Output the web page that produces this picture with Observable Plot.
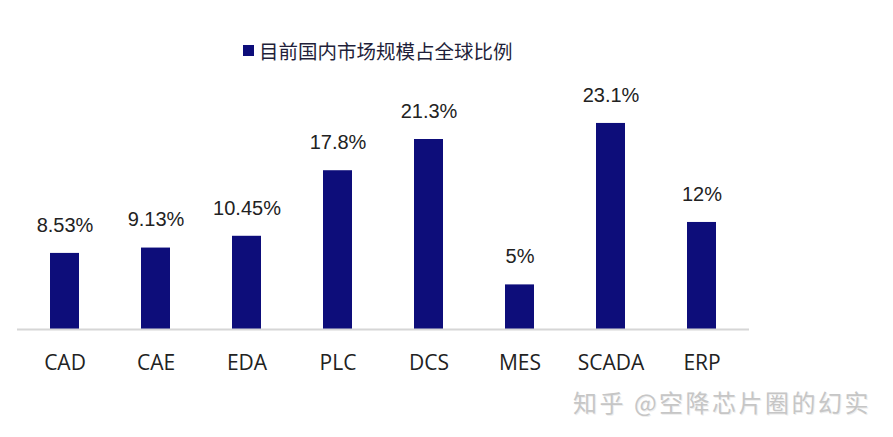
<!DOCTYPE html>
<html>
<head>
<meta charset="utf-8">
<script src="https://cdn.jsdelivr.net/npm/d3@7"></script>
<script src="https://cdn.jsdelivr.net/npm/@observablehq/plot@0.6"></script>
<style>
  html, body { margin: 0; padding: 0; background: #fff; }
  #wrap { position: relative; width: 893px; height: 437px; overflow: hidden; font-family: "Liberation Sans", Arial, "Noto Sans CJK SC", sans-serif; }
  #legend { position: absolute; left: 243px; top: 36px; display: flex; align-items: center; font-family: "Noto Sans CJK SC", sans-serif; font-size: 19.5px; color: #1f1f3a; }
  #legend .sw { width: 11px; height: 11px; background: #0d0d7a; margin-right: 5px; }
  #watermark { position: absolute; left: 573px; top: 384px; font-family: "Noto Sans CJK SC", sans-serif; font-size: 24px; color: #c6c6c6; letter-spacing: 2.5px; text-shadow: 1px 1px 0 #eee; }
  #chart svg { display: block; }
</style>
</head>
<body>
<div id="wrap">
  <div id="chart"></div>
  <div id="legend"><span class="sw"></span><span>目前国内市场规模占全球比例</span></div>
  <div id="watermark">知乎 @空降芯片圈的幻实</div>
</div>
<script>
const categories = ["CAD", "CAE", "EDA", "PLC", "DCS", "MES", "SCADA", "ERP"];
const shares = [8.53, 9.13, 10.45, 17.8, 21.3, 5, 23.1, 12];
const valueLabels = ["8.53%", "9.13%", "10.45%", "17.8%", "21.3%", "5%", "23.1%", "12%"];

const data = categories.map((c, i) => ({ cat: c, v: shares[i], label: valueLabels[i] }));

const chart = Plot.plot({
  width: 893,
  height: 437,
  marginLeft: 17,
  marginRight: 144,
  marginTop: 106,
  marginBottom: 108,
  style: { fontFamily: "'Liberation Sans', Arial, sans-serif", background: "transparent" },
  x: { domain: categories, paddingInner: 0.68, paddingOuter: 0.34, label: null },
  y: { domain: [0, 25], axis: null },
  marks: [
    Plot.barY(data, { x: "cat", y: "v", fill: "#0d0d7a" }),
    Plot.ruleY([0], { stroke: "#d6d6d6", strokeWidth: 2 }),
    Plot.text(data, { x: "cat", y: "v", text: "label", dy: -28, fontSize: 20, fill: "#222" }),
    Plot.axisX({ tickSize: 0, tickPadding: 26, fontSize: 21, fill: "#222", label: null, fontFamily: "'Open Sans', sans-serif" })
  ]
});
document.getElementById("chart").appendChild(chart);
</script>
</body>
</html>
